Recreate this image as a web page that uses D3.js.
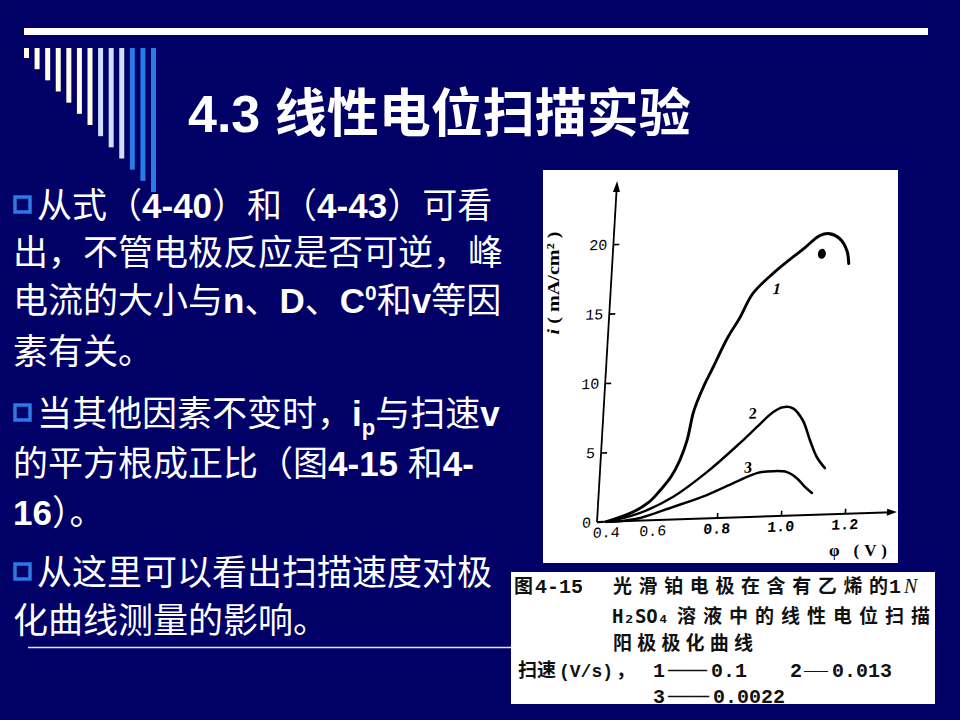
<!DOCTYPE html>
<html><head><meta charset="utf-8">
<script src="https://cdn.jsdelivr.net/npm/d3@7"></script>
<style>html,body{margin:0;padding:0;background:#000066;} svg{display:block}</style>
</head><body>
<svg id="c" width="960" height="720"></svg>
<script>
// ---------- data ----------
const seriesNames = ["1", "2", "3"];
const scanRates = ["0.1", "0.013", "0.0022"];
// potential φ (V), current density i (mA/cm2)
const curve1 = [[0.40,0],[0.504,0.57],[0.578,1.3],[0.616,2.1],[0.648,3.06],[0.673,4.26],[0.692,5.68],[0.706,7.61],[0.716,8.40],[0.738,9.74],[0.760,10.87],[0.799,12.93],[0.835,14.40],[0.871,16.10],[0.930,17.49],[1.026,19.29],[1.070,20.12],[1.101,20.23],[1.133,19.85],[1.158,18.96],[1.166,18.03]];
const curve2 = [[0.40,0],[0.437,0.10],[0.543,0.55],[0.658,1.62],[0.760,3.33],[0.858,5.34],[0.908,6.45],[0.956,7.49],[0.986,7.83],[1.018,7.73],[1.051,6.84],[1.077,5.39],[1.102,4.14],[1.129,3.34]];
const curve3 = [[0.40,0],[0.467,0.02],[0.545,0.19],[0.660,0.90],[0.764,1.68],[0.865,2.68],[0.917,3.14],[0.967,3.24],[1.011,3.14],[1.043,2.68],[1.070,2.03],[1.093,1.57]];
const curveLabelPos = [[0.945,16.4],[0.893,7.47],[0.888,3.6]];
const spotPoint = [1.080, 18.8];
const xTicks = [0.4, 0.6, 0.8, 1.0, 1.2];
const xTickLabels = ["0.4", "0.6", "0.8", "1.0", "1.2"];
const yTicks = [0, 5, 10, 15, 20];
const yTickLabels = ["0", "5", "10", "15", "20"];
const xDomain = [0.36, 0.6, 1.36];
const yDomain = [0, 24.4];

const titleText = ["4.3 ", "线性电位扫描实验"];
const bulletLines = [
  {bullet:true,  runs:[["从式（"],["4-40","b"],["）和（"],["4-43","b"],["）可看"]]},
  {bullet:false, runs:[["出，不管电极反应是否可逆，峰"]]},
  {bullet:false, runs:[["电流的大小与"],["n","b"],["、"],["D","b"],["、"],["C","b"],["0","sup"],["和"],["v","b"],["等因"]]},
  {bullet:false, runs:[["素有关。"]]},
  {bullet:true,  runs:[["当其他因素不变时，"],["i","b"],["p","sub"],["与扫速"],["v","b"]]},
  {bullet:false, runs:[["的平方根成正比（图"],["4-15 ","b"],["和"],["4-","b"]]},
  {bullet:false, runs:[["16","b"],["）。"]]},
  {bullet:true,  runs:[["从这里可以看出扫描速度对极"]]},
  {bullet:false, runs:[["化曲线测量的影响。"]]}
];
const lineBaselines = [218, 265, 313, 364, 426, 476, 525, 585, 633];
const decoColors = ["#fffbe6","#fffbe6","#fffbe6","#fffbe6","#fffbe6","#fffbe6","#fffbe6","#cfe0ff","#cfe0ff","#cfe0ff","#2b7be6","#2b7be6","#2b7be6"];

// ---------- drawing ----------
const svg = d3.select("#c");
const CJK = "'Liberation Sans','Noto Sans CJK SC',sans-serif";
const CJKONLY = "'Noto Sans CJK SC',sans-serif";
const mono = "'Liberation Mono',monospace";
const dmono = "'DejaVu Sans Mono',monospace";
const serif = "'Liberation Serif',serif";

svg.append("rect").attr("width",960).attr("height",720).attr("fill","#000066");

// top decoration
svg.append("rect").attr("x",24).attr("y",28).attr("width",904).attr("height",7).attr("fill","#ffffff");
const decoX = d3.scaleLinear().domain([0,12]).range([24,151]);
const decoY = d3.scaleLinear().domain([0,12]).range([58,192]);
svg.selectAll("rect.deco").data(decoColors).join("rect").attr("class","deco")
  .attr("x",(d,i)=>decoX(i)).attr("y",48).attr("width",5)
  .attr("height",(d,i)=>decoY(i)-48).attr("fill",d=>d);

// title
const title = svg.append("text").attr("x",188).attr("y",132)
  .attr("font-family",CJK).attr("font-weight",700).attr("font-size",52).attr("fill","#fff");
title.selectAll("tspan").data(titleText).join("tspan").text(d=>d);

// body text
bulletLines.forEach((ln,i)=>{
  const yb = lineBaselines[i];
  if (ln.bullet) {
    svg.append("rect").attr("x",15).attr("y",yb-21).attr("width",15).attr("height",15)
      .attr("fill","none").attr("stroke","#2b7be6").attr("stroke-width",3.5);
  }
  const t = svg.append("text").attr("x", ln.bullet ? 37 : 13).attr("y", yb)
    .attr("font-family",CJK).attr("font-size",35).attr("fill","#fff");
  let shift = 0;
  ln.runs.forEach(r=>{
    const ts = t.append("tspan").text(r[0]);
    let dy = 0;
    if (r[1]==="b") ts.attr("font-weight",700);
    if (r[1]==="sup") { ts.attr("font-weight",700).attr("font-size",21); dy = -13; }
    if (r[1]==="sub") { ts.attr("font-weight",700).attr("font-size",22); dy = 9; }
    if (dy - shift !== 0) ts.attr("dy", dy - shift);
    shift = dy;
  });
});

// thin separator line
svg.append("line").attr("x1",28).attr("x2",930).attr("y1",647.5).attr("y2",647.5)
  .attr("stroke","#dde6ff").attr("stroke-width",1.3);

// chart panel
svg.append("rect").attr("x",543).attr("y",170).attr("width",355).attr("height",393).attr("fill","#ffffff");

const x = d3.scaleLinear().domain(xDomain).range([597,653,896]);
const y = d3.scaleLinear().domain(yDomain).range([522,183]);
const x0 = x(xDomain[0]), y0 = y(0);
// the scanned plot is slightly sheared: y axis leans right, x axis rises to the right
const shA = -20/339, shB = -10/299;
const plot = svg.append("g")
  .attr("transform",`matrix(1,${shB},${shA},1,${-shA*y0},${-shB*x0})`);

// x axis
const xg = plot.append("g").attr("transform",`translate(0,${y0})`)
  .call(d3.axisBottom(x).tickValues(xTicks).tickFormat((d,i)=>xTickLabels[i])
    .tickSizeInner(-5).tickSizeOuter(0).tickPadding(5));
xg.select(".domain").remove();
xg.selectAll(".tick line").attr("stroke","#000").attr("stroke-width",1.6)
  .attr("opacity",(d,i)=>i<2?0:1);
xg.selectAll(".tick text").attr("font-family",mono).attr("font-weight",(d,i)=>i<2?400:700)
  .attr("font-size",15).attr("fill","#000");
xg.append("line").attr("x1",x0).attr("x2",x(xDomain[2])-4).attr("y1",0).attr("y2",0)
  .attr("stroke","#000").attr("stroke-width",2);
xg.append("path").attr("d",`M${x(xDomain[2])+1},0 L${x(xDomain[2])-9},-3.5 L${x(xDomain[2])-9},3.5Z`).attr("fill","#000");

// y axis
const yg = plot.append("g").attr("transform",`translate(${x0},0)`)
  .call(d3.axisLeft(y).tickValues(yTicks).tickFormat((d,i)=>yTickLabels[i])
    .tickSizeInner(-6).tickSizeOuter(0).tickPadding(6));
yg.select(".domain").remove();
yg.selectAll(".tick line").attr("stroke","#000").attr("stroke-width",1.6);
yg.selectAll(".tick text").attr("font-family",mono).attr("font-size",15).attr("fill","#000");
yg.append("line").attr("x1",0).attr("x2",0).attr("y1",y0).attr("y2",y(yDomain[1])+6)
  .attr("stroke","#000").attr("stroke-width",1.8);
yg.append("path").attr("d",`M0,${y(yDomain[1])-2} L-3.5,${y(yDomain[1])+9} L3.5,${y(yDomain[1])+9}Z`).attr("fill","#000");

// curves
const line = d3.line().x(d=>x(d[0])).y(d=>y(d[1])).curve(d3.curveCatmullRom.alpha(0.5));
const curves = [curve1, curve2, curve3];
plot.selectAll("path.curve").data(curves).join("path").attr("class","curve")
  .attr("d",line).attr("fill","none").attr("stroke","#000")
  .attr("stroke-width",(d,i)=>i===0?3:2.5).attr("stroke-linecap","round").attr("stroke-linejoin","round");
plot.append("ellipse").attr("cx",x(spotPoint[0])).attr("cy",y(spotPoint[1]))
  .attr("rx",4).attr("ry",5).attr("fill","#000");
plot.selectAll("text.clab").data(curveLabelPos).join("text").attr("class","clab")
  .attr("x",d=>x(d[0])).attr("y",d=>y(d[1])).attr("text-anchor","middle")
  .attr("dominant-baseline","central").attr("font-family",serif)
  .attr("font-weight",700).attr("font-size",16).attr("fill","#000")
  .attr("font-style",(d,i)=>i===0?"italic":"normal")
  .text((d,i)=>seriesNames[i]);

// axis titles
svg.append("text").attr("transform","translate(559,283) rotate(-90)")
  .attr("text-anchor","middle").attr("font-family",serif)
  .attr("font-weight",700).attr("font-size",17).attr("fill","#000")
  .attr("textLength",103).attr("lengthAdjust","spacingAndGlyphs")
  .html('<tspan font-style="italic">i</tspan> ( mA/cm² )');
svg.append("text").attr("x",829).attr("y",556)
  .attr("font-family",serif).attr("font-weight",700)
  .attr("font-size",17).attr("fill","#000").attr("textLength",58)
  .attr("lengthAdjust","spacing").text("φ  (V)");

// caption panel
svg.append("defs").append("clipPath").attr("id","capclip")
  .append("rect").attr("x",511).attr("y",572).attr("width",424).attr("height",132);
svg.append("rect").attr("x",511).attr("y",572).attr("width",424).attr("height",132).attr("fill","#ffffff");
const cap = svg.append("g").attr("clip-path","url(#capclip)")
  .attr("font-weight",700).attr("fill","#111");
const L = [593, 623, 650, 677, 703];
// caption pieces, each a separate text
const capRuns = [
  {t:"图", x:514, y:L[0], f:CJKONLY, s:19},
  {t:"4-15", x:535, y:L[0], f:mono, s:20},
  {t:"光滑铂电极在含有乙烯的", x:613, y:L[0], f:CJKONLY, s:19, len:275, adj:"spacing"},
  {t:"1", x:889, y:L[0], f:mono, s:20},
  {t:"N", x:904, y:L[0], f:serif, s:20, it:true},
  {t:"H₂SO₄", x:612, y:L[1], f:dmono, s:19},
  {t:"溶液中的线性电位扫描", x:677, y:L[1], f:CJKONLY, s:19, len:253, adj:"spacing"},
  {t:"阳极极化曲线", x:613, y:L[2], f:CJKONLY, s:19, len:140, adj:"spacing"},
  {t:"扫速", x:518, y:L[3], f:CJKONLY, s:19},
  {t:"(V/s)", x:559, y:L[3], f:mono, s:18},
  {t:"，", x:616, y:L[3], f:CJKONLY, s:19},
  {t:seriesNames[0], x:653, y:L[3], f:mono, s:20},
  {t:"——", x:668, y:L[3]-1, f:serif, s:20, len:39},
  {t:scanRates[0], x:711, y:L[3], f:mono, s:20},
  {t:seriesNames[1], x:790, y:L[3], f:mono, s:20},
  {t:"——", x:804, y:L[3]-3, f:serif, s:12},
  {t:scanRates[1], x:832, y:L[3], f:mono, s:20},
  {t:seriesNames[2], x:653, y:L[4], f:mono, s:20},
  {t:"——", x:668, y:L[4]-1, f:serif, s:20, len:41},
  {t:scanRates[2], x:713, y:L[4], f:mono, s:20}
];
capRuns.forEach(c=>{
  const t = cap.append("text").attr("x",c.x).attr("y",c.y).attr("font-family",c.f)
    .attr("font-size",c.s).text(c.t);
  if (c.len) t.attr("textLength",c.len).attr("lengthAdjust",c.adj||"spacingAndGlyphs");
  if (c.it) t.attr("font-style","italic").attr("font-weight",400);
});
</script>
</body></html>
